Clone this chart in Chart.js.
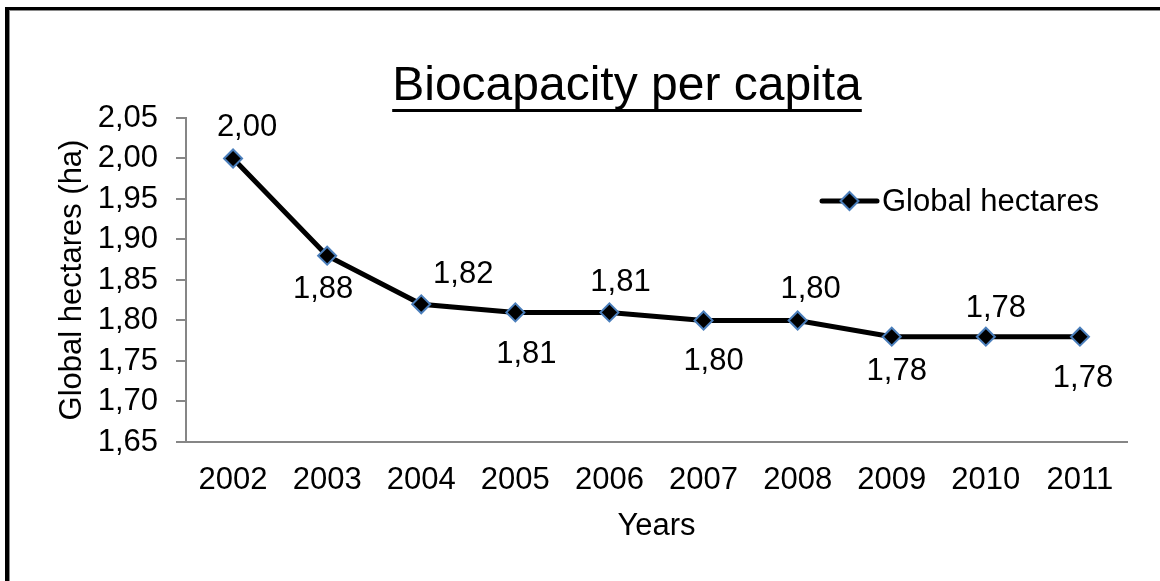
<!DOCTYPE html>
<html>
<head>
<meta charset="utf-8">
<title>Biocapacity per capita</title>
<script src="https://cdn.jsdelivr.net/npm/chart.js@4.4.1/dist/chart.umd.min.js"></script>
<style>
  html, body { margin: 0; padding: 0; background: #fff; }
  #wrap { width: 1160px; height: 581px; position: relative; }
</style>
</head>
<body>
<div id="wrap"><canvas id="bioChart" width="1160" height="581"></canvas></div>
<script>
// data
var years = ['2002', '2003', '2004', '2005', '2006', '2007', '2008', '2009', '2010', '2011'];
var globalHectares = [2.00, 1.88, 1.82, 1.81, 1.81, 1.80, 1.80, 1.78, 1.78, 1.78];
var yTicks = [1.65, 1.70, 1.75, 1.80, 1.85, 1.90, 1.95, 2.00, 2.05];

var FONT = '"Liberation Sans", Arial, sans-serif';
var fmt = function (v) { return v.toFixed(2).replace('.', ','); };

// outer frame + underlined title
var framePlugin = {
    id: 'frame',
    beforeDraw: function (chart) {
        var c = chart.ctx;
        c.save();
        c.fillStyle = '#fff';
        c.fillRect(0, 0, chart.width, chart.height);
        c.fillStyle = '#000';
        c.fillRect(5, 7, 4, chart.height);
        c.fillRect(5, 7, chart.width, 3);
        c.fillStyle = '#8a8a8a';
        c.fillRect(9, 10, 1, chart.height);
        c.fillRect(9, 10, chart.width, 1);

        c.font = '48px ' + FONT;
        c.fillStyle = '#000';
        c.textAlign = 'center';
        c.textBaseline = 'alphabetic';
        var t = 'Biocapacity per capita';
        c.fillText(t, 627, 100);
        var w = c.measureText(t).width;
        c.fillRect(627 - w / 2, 109, w, 3);
        c.restore();
    }
};

// legend: line with diamond marker
var legendPlugin = {
    id: 'lineLegend',
    afterDraw: function (chart) {
        var c = chart.ctx, a = chart.chartArea;
        var x0 = a.right - 305, x1 = a.right - 250, y = a.top + 83;
        var cx = (x0 + x1) / 2, r = 9;
        c.save();
        c.strokeStyle = '#000';
        c.lineWidth = 5;
        c.lineCap = 'round';
        c.beginPath();
        c.moveTo(x0, y);
        c.lineTo(x1, y);
        c.stroke();
        c.fillStyle = '#000';
        c.strokeStyle = '#4a7ebb';
        c.lineWidth = 2;
        c.beginPath();
        c.moveTo(cx, y - r); c.lineTo(cx + r, y); c.lineTo(cx, y + r); c.lineTo(cx - r, y); c.closePath();
        c.fill(); c.stroke();
        c.font = '31px ' + FONT;
        c.textAlign = 'left';
        c.textBaseline = 'middle';
        c.fillText('Global hectares', x1 + 5, y + 1);
        c.restore();
    }
};

// value labels, alternating above / below
var valueLabels = {
    id: 'valueLabels',
    afterDatasetsDraw: function (chart, args, opts) {
        var c = chart.ctx;
        var meta = chart.getDatasetMeta(0);
        c.save();
        c.font = '31px ' + FONT;
        c.fillStyle = '#000';
        c.textAlign = 'center';
        c.textBaseline = 'middle';
        meta.data.forEach(function (pt, i) {
            var v = chart.data.datasets[0].data[i];
            c.fillText(fmt(v), pt.x + opts.dx[i], pt.y + opts.dy[i]);
        });
        c.restore();
    }
};

var ctx = document.getElementById('bioChart').getContext('2d');
var bioChart = new Chart(ctx, {
    type: 'line',
    data: {
        labels: years,
        datasets: [{
            label: 'Global hectares',
            data: globalHectares,
            borderColor: '#000',
            borderWidth: 5,
            tension: 0,
            fill: false,
            pointStyle: 'rectRot',
            pointRadius: 9,
            pointHoverRadius: 9,
            pointBackgroundColor: '#000',
            pointBorderColor: '#4a7ebb',
            pointBorderWidth: 2
        }]
    },
    options: {
        responsive: false,
        animation: false,
        events: [],
        layout: { padding: { top: 118, left: 0, right: 33, bottom: 0 } },
        plugins: {
            legend: { display: false },
            title: { display: false },
            tooltip: { enabled: false },
            valueLabels: {
                dx: [14, -4, 42, 11, 11, 10, 13, 5, 10, 3],
                dy: [-31, 34, -30, 42, -30, 41, -31, 35, -28, 42]
            }
        },
        scales: {
            x: {
                offset: true,
                grid: { display: false, drawTicks: false },
                border: { display: true, color: '#868686', width: 2 },
                ticks: {
                    color: '#000',
                    padding: 20,
                    maxRotation: 0,
                    autoSkip: false,
                    font: { family: FONT, size: 31 }
                },
                title: {
                    display: true,
                    text: 'Years',
                    color: '#000',
                    font: { family: FONT, size: 31 },
                    padding: { top: 0, bottom: 36 }
                },
                afterFit: function (scale) { scale.height = 139; }
            },
            y: {
                min: 1.65,
                max: 2.05,
                afterBuildTicks: function (scale) {
                    scale.ticks = yTicks.map(function (v) { return { value: v }; });
                },
                grid: {
                    display: true,
                    drawOnChartArea: false,
                    drawTicks: true,
                    tickLength: 10,
                    color: '#868686',
                    lineWidth: 2
                },
                border: { display: true, color: '#868686', width: 2 },
                ticks: {
                    color: '#000',
                    padding: 18,
                    font: { family: FONT, size: 31 },
                    callback: function (v) { return fmt(v); }
                },
                title: {
                    display: true,
                    text: 'Global hectares (ha)',
                    color: '#000',
                    font: { family: FONT, size: 31 },
                    padding: { top: 54, bottom: 0 }
                },
                afterFit: function (scale) { scale.width = 186; }
            }
        }
    },
    plugins: [framePlugin, legendPlugin, valueLabels]
});
</script>
</body>
</html>
